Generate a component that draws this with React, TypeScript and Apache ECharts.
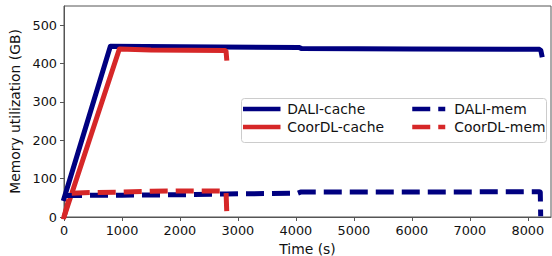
import React, { useEffect, useRef } from "react";
import * as echarts from "echarts";

// Time (s), memory (GB) samples
const daliCache: [number, number][] = [
  [0, 48], [800, 445], [2000, 444], [4050, 442], [4100, 439], [6000, 438], [8200, 437], [8225, 434], [8240, 423],
];
const coordlCache: [number, number][] = [
  [0, 0], [955, 438], [1500, 435], [2780, 434], [2795, 432], [2805, 414],
];
const daliMem: [number, number][] = [
  [0, 56], [1000, 57], [2000, 58], [2800, 60], [4030, 62], [4080, 65], [6000, 65], [8200, 66], [8215, 65], [8222, 2],
];
const coordlMem: [number, number][] = [
  [0, 0], [110, 62], [500, 64], [1000, 65], [1500, 67], [2000, 68], [2770, 68], [2795, 66], [2808, 10],
];

const xTicks = [0, 1000, 2000, 3000, 4000, 5000, 6000, 7000, 8000];
const yTicks = [0, 100, 200, 300, 400, 500];

const NAVY = "#000080";
const RED = "#d62728";
const FONT = "DejaVu Sans";

export default function App() {
  const ref = useRef<HTMLDivElement>(null);
  useEffect(() => {
    if (!ref.current) return;
    const chart = echarts.init(ref.current, undefined, { renderer: "svg" });
    const axisCommon = {
      type: "value" as const,
      axisLine: { show: true, lineStyle: { color: "#555", width: 1 } },
      axisTick: { show: true, length: 4, lineStyle: { color: "#555" } },
      splitLine: { show: false },
      nameTextStyle: { fontFamily: FONT, fontSize: 13.9, color: "#111" },
    };
    const legendCommon = {
      orient: "vertical" as const,
      top: 102,
      padding: 0,
      itemGap: 4,
      itemWidth: 33,
      itemHeight: 14,
      z: 10,
      itemStyle: { opacity: 0 },
      lineStyle: { width: 4.5 },
      textStyle: { fontFamily: FONT, fontSize: 13.9, color: "#111", padding: [0, 0, 0, 4] },
    };
    chart.setOption({
      animation: false,
      grid: {
        left: 64,
        right: 1,
        top: 6,
        bottom: 39,
        show: true,
        borderColor: "#555",
        borderWidth: 1,
        containLabel: false,
        outerBoundsMode: "none",
      },
      xAxis: {
        ...axisCommon,
        min: 0,
        max: 8400,
        name: "Time (s)",
        nameLocation: "middle",
        nameGap: 25,
        axisTick: { ...axisCommon.axisTick, customValues: xTicks },
        axisLabel: {
          customValues: xTicks,
          formatter: (v: number) => String(v),
          margin: 7,
          fontFamily: FONT,
          fontSize: 12.85,
          color: "#111",
        },
      },
      yAxis: {
        ...axisCommon,
        min: 0,
        max: 550,
        name: "Memory utilization (GB)",
        nameLocation: "middle",
        nameGap: 40,
        axisTick: { ...axisCommon.axisTick, customValues: yTicks },
        axisLabel: {
          customValues: yTicks,
          formatter: (v: number) => String(v),
          margin: 7,
          fontFamily: FONT,
          fontSize: 12.85,
          color: "#111",
        },
      },
      legend: [
        { ...legendCommon, left: 243, data: ["DALI-cache", "CoorDL-cache"] },
        { ...legendCommon, left: 410, data: ["DALI-mem", "CoorDL-mem"] },
      ],
      graphic: [
        {
          type: "rect",
          left: 241,
          top: 98,
          z: 5,
          shape: { width: 305, height: 44, r: 3 },
          style: { fill: "rgba(255,255,255,0.8)", stroke: "#cccccc", lineWidth: 1 },
        },
      ],
      series: [
        {
          name: "DALI-cache",
          type: "line",
          data: daliCache,
          symbol: "none",
          color: NAVY,
          lineStyle: { color: NAVY, width: 5, cap: "square", join: "round" },
        },
        {
          name: "CoorDL-cache",
          type: "line",
          data: coordlCache,
          symbol: "none",
          color: RED,
          lineStyle: { color: RED, width: 5, cap: "square", join: "round" },
        },
        {
          name: "DALI-mem",
          type: "line",
          data: daliMem,
          symbol: "none",
          color: NAVY,
          lineStyle: { color: NAVY, width: 5, type: [18, 8], cap: "butt", join: "round" },
        },
        {
          name: "CoorDL-mem",
          type: "line",
          data: coordlMem,
          symbol: "none",
          color: RED,
          lineStyle: { color: RED, width: 5, type: [18, 8], cap: "butt", join: "round" },
        },
      ],
    });
    return () => chart.dispose();
  }, []);
  return <div ref={ref} style={{ width: 552, height: 256, position: "absolute", left: 0, top: 0 }} />;
}
